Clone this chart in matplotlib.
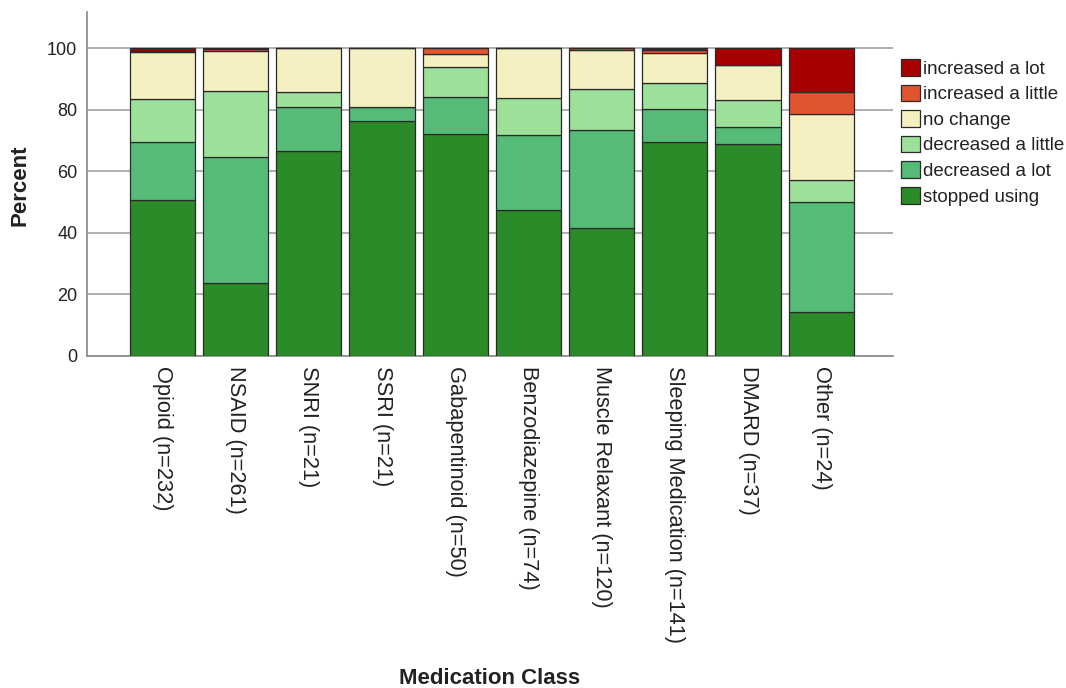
import matplotlib
matplotlib.use("Agg")
import matplotlib.pyplot as plt
import numpy as np

categories = ["Opioid (n=232)", "NSAID (n=261)", "SNRI (n=21)", "SSRI (n=21)",
              "Gabapentinoid (n=50)", "Benzodiazepine (n=74)", "Muscle Relaxant (n=120)",
              "Sleeping Medication (n=141)", "DMARD (n=37)", "Other (n=24)"]

stopped_using = [50.6, 23.8, 66.7, 76.2, 72.0, 47.3, 41.7, 69.5, 69.0, 14.3]
decreased_a_lot = [18.9, 40.9, 14.3, 4.8, 12.0, 24.3, 31.7, 10.6, 5.4, 35.7]
decreased_a_little = [13.8, 21.5, 4.8, 0.0, 10.0, 12.2, 13.3, 8.5, 8.6, 7.1]
no_change = [15.3, 12.7, 14.3, 19.0, 4.0, 16.2, 12.5, 9.9, 11.5, 21.4]
increased_a_little = [0.4, 0.8, 0.0, 0.0, 2.0, 0.0, 0.8, 0.7, 0.0, 7.1]
increased_a_lot = [1.0, 0.3, 0.0, 0.0, 0.0, 0.0, 0.0, 0.7, 5.5, 14.3]

series_names = ["stopped using", "decreased a lot", "decreased a little",
                "no change", "increased a little", "increased a lot"]
series = [stopped_using, decreased_a_lot, decreased_a_little,
          no_change, increased_a_little, increased_a_lot]
colors = ["#2b8b29", "#57bb78", "#9de09a", "#f4f0c2", "#e0552d", "#a60000"]

plt.rcParams['font.family'] = ['Liberation Sans', 'DejaVu Sans']

W, H = 1066, 688
fig = plt.figure(figsize=(W / 100, H / 100), dpi=100)
ax_l, ax_r, ax_t, ax_b = 87, 893, 12, 356
ax = fig.add_axes([ax_l / W, 1 - ax_b / H, (ax_r - ax_l) / W, (ax_b - ax_t) / H])

x = np.arange(len(categories))
bottom = np.zeros(len(categories))
handles = []
for name, vals, col in zip(series_names, series, colors):
    v = np.array(vals)
    b = ax.bar(x, v, bottom=bottom, width=0.89, color=col, edgecolor="#2a2a2a",
               linewidth=0.9, label=name, zorder=3)
    handles.append(b)
    bottom += v

ax.set_xlim(-1.03, 9.98)
ax.set_ylim(0, 111.7)
ax.set_yticks([0, 20, 40, 60, 80, 100])
ax.yaxis.grid(True, color="#a8a8a8", linewidth=1.3, zorder=0)
ax.set_axisbelow(True)
for s in ["top", "right"]:
    ax.spines[s].set_visible(False)
for s in ["left", "bottom"]:
    ax.spines[s].set_color("#909090")
    ax.spines[s].set_linewidth(1.3)
ax.tick_params(axis="both", length=0)
ax.tick_params(axis="y", labelsize=13, pad=7, colors="#222222")
ax.set_xticks(x)
ax.set_xticklabels(categories, rotation=-90, fontsize=15.7, va="top", ha="center",
                   color="#222222")
ax.tick_params(axis="x", pad=7)

fig.text(20 / W, 1 - 185 / H, "Percent", rotation=90, fontsize=16, fontweight="bold",
         ha="center", va="center", color="#222222")
fig.text(490 / W, 1 - 678 / H, "Medication Class", fontsize=16, fontweight="bold",
         ha="center", va="center", color="#222222")

leg = fig.legend(handles[::-1], series_names[::-1], loc="upper left",
                 bbox_to_anchor=(901 / W, 1 - 59 / H), frameon=False, fontsize=13.5,
                 handlelength=1.0, handleheight=1.0, handletextpad=0.15,
                 labelspacing=0.36, borderaxespad=0, borderpad=0)
for t in leg.get_texts():
    t.set_color("#222222")

fig.savefig("out.png", dpi=100)
